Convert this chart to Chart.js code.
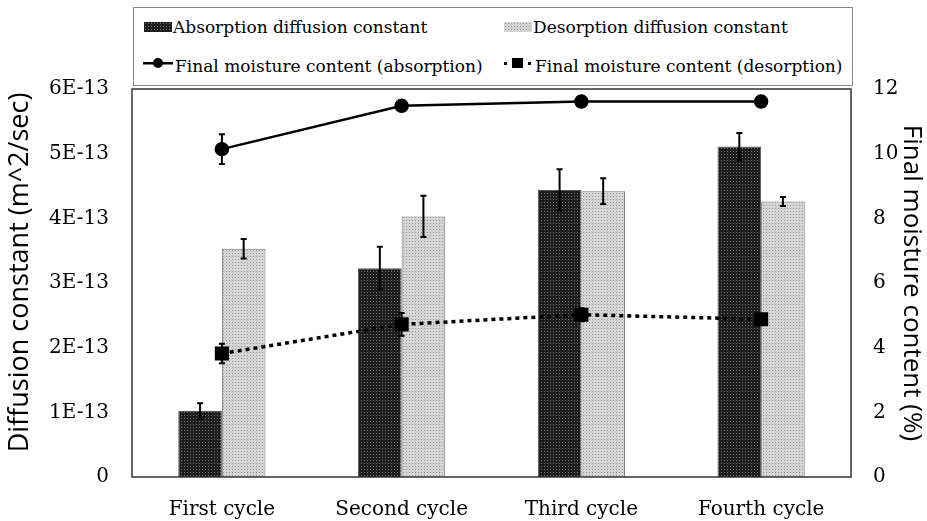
<!DOCTYPE html>
<html>
<head>
<meta charset="utf-8">
<script src="https://cdn.jsdelivr.net/npm/chart.js@4.4.1/dist/chart.umd.min.js"></script>
<style>
  body { margin: 0; background: #fff; }
  #wrap { position: relative; width: 927px; height: 521px; }
  #legend-box { position: absolute; left: 133px; top: 7px; width: 718px; height: 77px; border: 1px solid #888; background: #fff; }
  .lg-text { position: absolute; font-family: "DejaVu Serif"; font-size: 17px; line-height: 20px; color: #000; white-space: nowrap; }
  .lg-mark { position: absolute; }
</style>
</head>
<body>
<div id="wrap">
  <canvas id="chart" width="927" height="521"></canvas>
  <div id="legend-box"></div>
</div>
<script>
// Data
const categories = ["First cycle", "Second cycle", "Third cycle", "Fourth cycle"];
const absDiffusion = [1.02e-13, 3.23e-13, 4.44e-13, 5.11e-13];
const absDiffusionErr = [0.12e-13, 0.33e-13, 0.32e-13, 0.21e-13];
const desDiffusion = [3.53e-13, 4.03e-13, 4.42e-13, 4.26e-13];
const desDiffusionErr = [0.15e-13, 0.32e-13, 0.20e-13, 0.07e-13];
const absMoisture = [10.14, 11.48, 11.61, 11.61];
const absMoistureErr = [0.46, 0.1, 0.1, 0.1];
const desMoisture = [3.82, 4.72, 5.02, 4.88];
const desMoistureErr = [0.30, 0.35, 0.20, 0.1];
const leftTicks = ["0", "1E-13", "2E-13", "3E-13", "4E-13", "5E-13", "6E-13"];
const rightTicks = ["0", "2", "4", "6", "8", "10", "12"];

const legendLabels = [
  "Absorption diffusion constant",
  "Desorption diffusion constant",
  "Final moisture content (absorption)",
  "Final moisture content (desorption)"
];

// dotted fill textures for the bars
function makeTile(bg, dot) {
  const c = document.createElement("canvas");
  c.width = 3; c.height = 3;
  const g = c.getContext("2d");
  g.fillStyle = bg; g.fillRect(0, 0, 3, 3);
  g.fillStyle = dot; g.fillRect(1, 1, 1, 1);
  return c;
}
const darkTile = makeTile("#1e1e1e", "#707070");
const lightTile = makeTile("#d4d4d4", "#9a9a9a");

const canvas = document.getElementById("chart");
const ctx = canvas.getContext("2d");
const darkFill = ctx.createPattern(darkTile, "repeat");
const lightFill = ctx.createPattern(lightTile, "repeat");

// error bars for every dataset that has an "errors" array
const errorBars = {
  id: "errorBars",
  afterDatasetsDraw(chart) {
    const c = chart.ctx;
    c.save();
    c.strokeStyle = "#000";
    c.lineWidth = 2;
    chart.data.datasets.forEach((ds, i) => {
      if (!ds.errors) return;
      const meta = chart.getDatasetMeta(i);
      const scale = chart.scales[meta.yAxisID];
      meta.data.forEach((el, j) => {
        const v = ds.data[j], e = ds.errors[j];
        const x = el.x;
        const yTop = scale.getPixelForValue(v + e);
        const yBot = scale.getPixelForValue(v - e);
        c.beginPath();
        c.moveTo(x, yTop); c.lineTo(x, yBot);
        c.moveTo(x - 3, yTop); c.lineTo(x + 3, yTop);
        c.moveTo(x - 3, yBot); c.lineTo(x + 3, yBot);
        c.stroke();
      });
    });
    c.restore();
  }
};

// box round the plot area
const frame = {
  id: "frame",
  afterDraw(chart) {
    const a = chart.chartArea;
    const c = chart.ctx;
    c.save();
    c.strokeStyle = "#333";
    c.lineWidth = 1.5;
    c.strokeRect(a.left, a.top, a.right - a.left, a.bottom - a.top);
    c.restore();
  }
};

const tickFont = { family: "DejaVu Serif", size: 20 };

new Chart(canvas, {
  data: {
    labels: categories,
    datasets: [
      {
        type: "line", label: legendLabels[2], data: absMoisture, errors: absMoistureErr,
        yAxisID: "y1", borderColor: "#000", backgroundColor: "#000", borderWidth: 2.5,
        pointStyle: "circle", pointRadius: 6, tension: 0, order: 0
      },
      {
        type: "line", label: legendLabels[3], data: desMoisture, errors: desMoistureErr,
        yAxisID: "y1", borderColor: "#000", backgroundColor: "#000", borderWidth: 3.5,
        borderDash: [4, 4], pointStyle: "rect", pointRadius: 7.5, tension: 0, order: 0
      },
      {
        type: "bar", label: legendLabels[0], data: absDiffusion, errors: absDiffusionErr,
        yAxisID: "y", backgroundColor: darkFill, borderColor: "#555", borderWidth: 1,
        barPercentage: 1, categoryPercentage: 0.485, order: 1
      },
      {
        type: "bar", label: legendLabels[1], data: desDiffusion, errors: desDiffusionErr,
        yAxisID: "y", backgroundColor: lightFill, borderColor: "#777", borderWidth: 1,
        barPercentage: 1, categoryPercentage: 0.485, order: 1
      }
    ]
  },
  options: {
    responsive: false,
    animation: false,
    layout: { padding: { top: 89, left: 0, right: 0, bottom: 0 } },
    plugins: { legend: { display: false }, tooltip: { enabled: false } },
    scales: {
      x: {
        grid: { display: false, drawTicks: false },
        border: { display: false },
        ticks: { font: tickFont, color: "#000", padding: 21, maxRotation: 0 },
        afterFit: s => { s.height = 44; }
      },
      y: {
        position: "left", min: 0, max: 6e-13,
        grid: { display: false, drawTicks: false },
        border: { display: false },
        ticks: { count: 7, font: tickFont, color: "#000", padding: 23, callback: (v, i) => leftTicks[i] },
        // leading spaces nudge the rotated title up a little, as in the original
        title: { display: true, text: "   Diffusion constant (m^2/sec)", font: { family: "Open Sans", size: 27 }, color: "#000", padding: { top: 4, bottom: 0 } },
        afterFit: s => { s.width = 132; }
      },
      y1: {
        position: "right", min: 0, max: 12,
        grid: { display: false, drawTicks: false },
        border: { display: false },
        ticks: { count: 7, font: tickFont, color: "#000", padding: 22, callback: (v, i) => rightTicks[i] },
        title: { display: true, text: "Final moisture content (%)", font: { family: "Open Sans", size: 26 }, color: "#000", padding: { top: 0, bottom: 0 } },
        afterFit: s => { s.width = 76; }
      }
    }
  },
  plugins: [errorBars, frame]
});

// Legend (html, two columns)
const wrap = document.getElementById("wrap");

function addText(text, left, top) {
  const d = document.createElement("div");
  d.className = "lg-text";
  d.style.left = left + "px";
  d.style.top = top + "px";
  d.textContent = text;
  wrap.appendChild(d);
}

function addSwatch(tile, left, top) {
  const d = document.createElement("div");
  d.className = "lg-mark";
  d.style.left = left + "px";
  d.style.top = top + "px";
  d.style.width = "28px";
  d.style.height = "10px";
  d.style.backgroundImage = "url(" + tile.toDataURL() + ")";
  wrap.appendChild(d);
}

function addLineMark(kind, left, top) {
  const c = document.createElement("canvas");
  c.width = 30; c.height = 14;
  c.className = "lg-mark";
  c.style.left = left + "px";
  c.style.top = top + "px";
  const g = c.getContext("2d");
  g.fillStyle = "#000";
  if (kind === "circle") {
    g.fillRect(0, 6, 30, 2.5);
    g.beginPath(); g.arc(15, 7, 5, 0, Math.PI * 2); g.fill();
  } else {
    g.fillRect(1, 6, 3, 3);
    g.fillRect(9, 2, 11, 10);
    g.fillRect(25, 6, 3, 3);
  }
  wrap.appendChild(c);
}

addSwatch(darkTile, 144, 22);
addText(legendLabels[0], 173, 17);
addSwatch(lightTile, 504, 22);
addText(legendLabels[1], 533, 17);
addLineMark("circle", 143, 56);
addText(legendLabels[2], 175, 56);
addLineMark("rect", 503, 56);
addText(legendLabels[3], 535, 56);
</script>
</body>
</html>
